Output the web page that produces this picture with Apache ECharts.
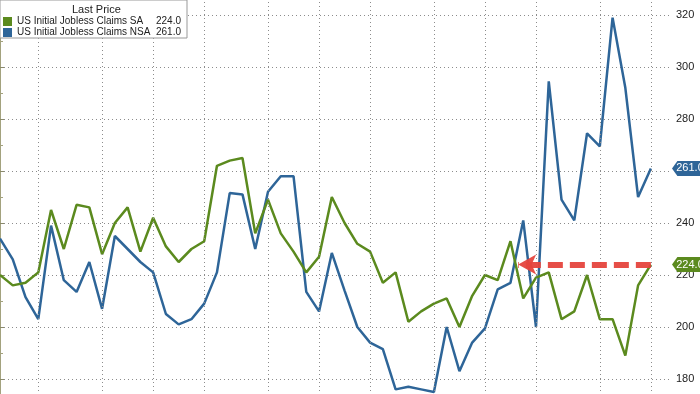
<!DOCTYPE html>
<html>
<head>
<meta charset="utf-8">
<script src="https://cdn.jsdelivr.net/npm/echarts@6/dist/echarts.min.js"></script>
<style>html,body{margin:0;padding:0;background:#fff;}#c{width:700px;height:394px;}</style>
</head>
<body>
<div id="c"></div>
<script>
// Weekly data (thousands)
var saName = 'US Initial Jobless Claims SA';
var nsaName = 'US Initial Jobless Claims NSA';
var saValues = [220,216,217,221,245,230,247,246,228,240,246,229,242,231,225,230,233,262,264,265,236,249,236,229,221,227,250,240,232,229,217,221,202,206,209,211,200,212,220,218,233,211,219,221,203,206,220,203,203,189,216,224];
var nsaValues = [234,226,211.5,203,239,218,213.5,225,207,235,230,225,221,205,201,203,209,221,251.5,251,230,252,258,258,213.5,206,228.5,214,200,194,191.5,176,177,176,175,200,183,194,199.5,214.5,217,241,200,294.5,249,241,274.5,269.5,319,292,250,261];
// week indices where a new month starts (vertical grid lines)
var monthStartIdx = [3,8,12,16,21,25,29,34,38,42,47,51];
// y-axis ticks
var yMin = 160, yMax = 340, yStep = 20;
// arrow annotation end (week index)
var arrowEndIdx = 40.6;
var xMax = 52.5;

var SA_COLOR = '#5b8a1e', NSA_COLOR = '#2e6598';
var FONT = 'Liberation Sans, Arial, sans-serif';

function pairs(arr){ return arr.map(function(v,i){ return [i,v]; }); }
var saLast = saValues[saValues.length-1];
var nsaLast = nsaValues[nsaValues.length-1];
var tagPath = 'path://M0,7 L6,0 L40,0 L40,14 L6,14 Z';

var chart = echarts.init(document.getElementById('c'), null, {renderer:'canvas'});
chart.setOption({
  animation: false,
  backgroundColor: '#fff',
  textStyle: {fontFamily: FONT},
  grid: {left: 0, right: 30, top: -37, bottom: -37, containLabel: false, outerBoundsMode: 'none'},
  title: {text: 'Last Price', left: 67, top: -1, textStyle: {fontSize: 11, fontWeight: 'normal', color: '#222', fontFamily: FONT}, z: 20},
  legend: {
    left: 0, top: 0, orient: 'vertical',
    data: [saName, nsaName],
    backgroundColor: '#fff', borderColor: '#999', borderWidth: 1,
    padding: [16, 6, 0, 3], itemGap: 0, itemWidth: 9, itemHeight: 9, icon: 'rect',
    formatter: function(n){ var v = n === saName ? saLast : nsaLast; return '{n|' + n + '}{v|' + v.toFixed(1) + '}'; },
    textStyle: {fontFamily: FONT, fontSize: 10, color: '#222', lineHeight: 11,
      rich: {n: {width: 140, fontSize: 10, fontFamily: FONT}, v: {width: 24, align: 'right', fontSize: 10, fontFamily: FONT}}},
    z: 10
  },
  xAxis: {
    type: 'value', min: 0, max: xMax,
    axisLine: {show: false}, axisTick: {show: false}, axisLabel: {show: false}, splitLine: {show: false}
  },
  yAxis: {
    type: 'value', position: 'right', min: yMin, max: yMax, interval: yStep,
    axisLine: {show: true, lineStyle: {color: '#a3a27e', width: 1}},
    axisTick: {show: true, length: 4, lineStyle: {color: '#8a8a6a'}},
    minorTick: {show: true, splitNumber: 2, length: 3, lineStyle: {color: '#a3a27e'}},
    axisLabel: {color: '#222', fontSize: 11, margin: 6, fontFamily: FONT},
    splitLine: {show: true, lineStyle: {color: '#8c8c8c', type: [1, 3], width: 1}}
  },
  series: [
    {
      name: '', type: 'line', data: pairs(saValues), symbol: 'none', silent: true, z: 0,
      lineStyle: {opacity: 0}, legendHoverLink: false,
      markLine: {
        silent: true, symbol: ['none','none'], label: {show: false},
        lineStyle: {color: '#8c8c8c', type: [1, 3], width: 1},
        data: monthStartIdx.map(function(i){ return {xAxis: i}; })
      }
    },
    {
      name: nsaName, type: 'line', data: pairs(nsaValues), symbol: 'none', z: 3,
      color: NSA_COLOR, lineStyle: {color: NSA_COLOR, width: 2.5},
      markPoint: {
        symbol: tagPath, symbolSize: [36, 15], symbolOffset: [20, 0], silent: true,
        itemStyle: {color: NSA_COLOR},
        label: {show: true, color: '#fff', fontSize: 11, fontFamily: FONT, offset: [0, 0], formatter: function(p){ return p.value.toFixed(1); }},
        data: [{coord: [xMax, nsaLast], value: nsaLast}]
      }
    },
    {
      name: saName, type: 'line', data: pairs(saValues), symbol: 'none', z: 4,
      color: SA_COLOR, lineStyle: {color: SA_COLOR, width: 2.5},
      markPoint: {
        symbol: tagPath, symbolSize: [36, 15], symbolOffset: [20, 0], silent: true,
        itemStyle: {color: SA_COLOR},
        label: {show: true, color: '#fff', fontSize: 11, fontFamily: FONT, offset: [0, 0], formatter: function(p){ return p.value.toFixed(1); }},
        data: [{coord: [xMax, saLast], value: saLast}]
      },
      markLine: {
        silent: true, symbol: ['none', 'arrow'], symbolSize: [15, 18], label: {show: false},
        lineStyle: {color: '#e5443d', type: [15, 7], width: 6, opacity: 0.95},
        data: [[{coord: [saValues.length - 1, saLast]}, {coord: [arrowEndIdx, saLast]}]]
      }
    }
  ]
});
</script>
</body>
</html>
